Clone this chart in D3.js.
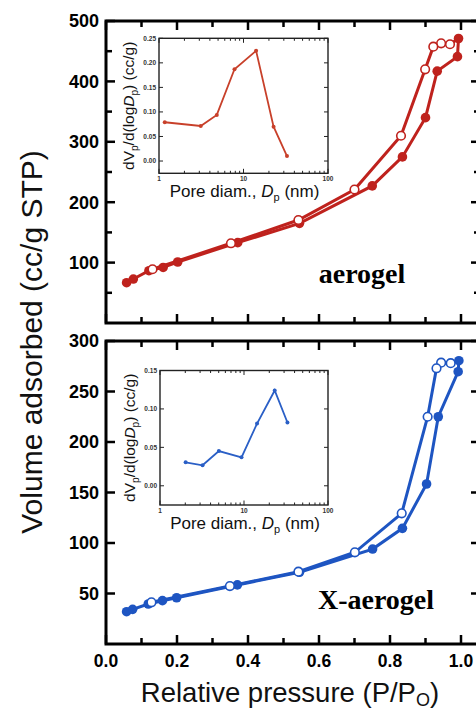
<!DOCTYPE html>
<html><head><meta charset="utf-8">
<script src="https://cdn.jsdelivr.net/npm/d3@7"></script>
<style>body{margin:0;background:#fff}svg{display:block}</style>
</head><body>
<svg id="c" width="476" height="709"></svg>
<script>
// ---- data ----
const aeroAdsP = [0.058,0.077,0.121,0.161,0.202,0.371,0.545,0.750,0.835,0.900,0.933,0.990,0.993];
const aeroAdsV = [66.7,72.8,86.6,92,101,133,165,227,275,340,417,441,471];
const aeroDesP = [0.969,0.944,0.922,0.899,0.831,0.700,0.542,0.352,0.131];
const aeroDesV = [461.5,463,457.5,420,310,221,170.5,132,89];

const xaeroAdsP = [0.058,0.075,0.119,0.159,0.199,0.370,0.545,0.751,0.835,0.903,0.936,0.992,0.994];
const xaeroAdsV = [32,34.3,39.6,42.9,45.8,58.5,71,94,114.5,158.4,225,269.6,280.5];
const xaeroDesP = [0.971,0.944,0.931,0.906,0.833,0.701,0.542,0.349,0.128];
const xaeroDesV = [278,278.5,273,225,129.4,90.8,71.6,57.4,41.3];

const aeroPoreD = [1.17,3.12,4.83,7.82,14.1,22.7,32.7];
const aeroPoreV = [0.079,0.0714,0.094,0.187,0.2245,0.070,0.0102];
const xaeroPoreD = [2.02,3.21,5.02,9.34,14.3,23.2,32.9];
const xaeroPoreV = [0.0306,0.0267,0.0452,0.037,0.081,0.124,0.0823];

const xTicksMajor = [0,0.2,0.4,0.6,0.8,1.0];
const xTicksMinor = [0.1,0.3,0.5,0.7,0.9];
const topYMajor = [100,200,300,400,500];
const topYMinor = [50,150,250,350,450];
const botYMajor = [50,100,150,200,250,300];
const insetTopYTicks = [0,0.05,0.10,0.15,0.20,0.25];
const insetBotYTicks = [0,0.05,0.10,0.15];
const insetXTicks = [1,10,100];

// ---- drawing ----
const svg = d3.select('#c');
const SANS = "'Liberation Sans', Arial, sans-serif";
const RED = '#bf221d', BLUE = '#1e55c2';
const L = 106, R = 480;
const x = d3.scaleLinear().domain([0,1]).range([L,461]);

function panel(top, bottom, yDomain, yMajor, yMinor, color, ads, des, label, inset){
  const y = d3.scaleLinear().domain(yDomain).range([bottom, top]);
  const g = svg.append('g');
  const tk = g.append('g').attr('stroke','#000').attr('stroke-width',2.5);
  xTicksMajor.concat(xTicksMinor).forEach(t=>{
    const len = xTicksMajor.includes(t) ? 9 : 6;
    tk.append('line').attr('x1',x(t)).attr('x2',x(t)).attr('y1',bottom).attr('y2',bottom-len);
    tk.append('line').attr('x1',x(t)).attr('x2',x(t)).attr('y1',top).attr('y2',top+len);
  });
  yMajor.concat(yMinor).forEach(t=>{
    const len = yMajor.includes(t) ? 9 : 6;
    tk.append('line').attr('x1',L).attr('x2',L+len).attr('y1',y(t)).attr('y2',y(t));
    tk.append('line').attr('x1',R).attr('x2',R-len).attr('y1',y(t)).attr('y2',y(t));
  });
  g.append('rect').attr('x',L).attr('y',top).attr('width',R-L).attr('height',bottom-top)
    .attr('fill','none').attr('stroke','#000').attr('stroke-width',3);
  g.selectAll('text.yl').data(yMajor).join('text').attr('class','yl')
    .attr('x',99).attr('y',d=>y(d)).attr('dy','0.36em').attr('text-anchor','end')
    .attr('font-family',SANS).attr('font-weight','bold').attr('font-size',18).text(d=>d);

  inset(g, color);

  const line = d3.line().x(d=>x(d[0])).y(d=>y(d[1]));
  const adsPts = ads[0].map((p,i)=>[p, ads[1][i]]);
  const desPts = des[0].map((p,i)=>[p, des[1][i]]);
  g.append('path').attr('d',line(adsPts)).attr('fill','none').attr('stroke',color).attr('stroke-width',3);
  g.append('path').attr('d',line([adsPts[adsPts.length-1]].concat(desPts))).attr('fill','none').attr('stroke',color).attr('stroke-width',3);
  g.selectAll('circle.a').data(adsPts).join('circle').attr('class','a')
    .attr('cx',d=>x(d[0])).attr('cy',d=>y(d[1])).attr('r',4.8).attr('fill',color);
  g.selectAll('circle.d').data(desPts).join('circle').attr('class','d')
    .attr('cx',d=>x(d[0])).attr('cy',d=>y(d[1])).attr('r',4.3).attr('fill','#fff')
    .attr('stroke',color).attr('stroke-width',1.6);

  g.append('text').attr('x',label.x).attr('y',label.y).attr('text-anchor','middle')
    .attr('font-family',"'Liberation Serif','Times New Roman',serif").attr('font-weight','bold')
    .attr('font-size',28).text(label.t);
  return y;
}

function makeInset(box, yDomain, yTicks, D, V, color){
  return function(g){
    const ix = d3.scaleLog().domain([1,100]).range([box.l, box.r]);
    const iy = d3.scaleLinear().domain(yDomain).range([box.b, box.t]);
    const ig = g.append('g');
    const tk = ig.append('g').attr('stroke','#222').attr('stroke-width',1);
    const minors = [];
    for (let dec of [1,10]) for (let k=2;k<=9;k++) minors.push(dec*k);
    minors.forEach(t=>{
      tk.append('line').attr('x1',ix(t)).attr('x2',ix(t)).attr('y1',box.b).attr('y2',box.b-2.5);
      tk.append('line').attr('x1',ix(t)).attr('x2',ix(t)).attr('y1',box.t).attr('y2',box.t+2.5);
    });
    insetXTicks.forEach(t=>{
      tk.append('line').attr('x1',ix(t)).attr('x2',ix(t)).attr('y1',box.b).attr('y2',box.b-4.5);
      tk.append('line').attr('x1',ix(t)).attr('x2',ix(t)).attr('y1',box.t).attr('y2',box.t+4.5);
    });
    yTicks.forEach(t=>{
      tk.append('line').attr('x1',box.l).attr('x2',box.l+4).attr('y1',iy(t)).attr('y2',iy(t));
      tk.append('line').attr('x1',box.r).attr('x2',box.r-4).attr('y1',iy(t)).attr('y2',iy(t));
    });
    ig.append('rect').attr('x',box.l).attr('y',box.t).attr('width',box.r-box.l).attr('height',box.b-box.t)
      .attr('fill','none').attr('stroke','#222').attr('stroke-width',1.4);
    ig.selectAll('text.iy').data(yTicks).join('text').attr('class','iy')
      .attr('x',box.l-3).attr('y',d=>iy(d)).attr('dy','0.35em').attr('text-anchor','end')
      .attr('font-family',SANS).attr('font-weight','bold').attr('font-size',6.5).attr('fill','#333')
      .text(d=>d3.format('.2f')(d));
    ig.selectAll('text.ix').data(insetXTicks).join('text').attr('class','ix')
      .attr('x',d=>ix(d)).attr('y',box.b+8).attr('text-anchor','middle')
      .attr('font-family',SANS).attr('font-weight','bold').attr('font-size',6.5).attr('fill','#333')
      .text(d=>d);
    const xt = ig.append('text').attr('x',(box.l+box.r)/2+1).attr('y',box.b+24).attr('text-anchor','middle')
      .attr('font-family',SANS).attr('font-size',17).attr('fill','#111');
    xt.append('tspan').text('Pore diam., ');
    xt.append('tspan').attr('font-style','italic').text('D');
    xt.append('tspan').attr('font-size',11).attr('dy',4).text('p');
    xt.append('tspan').attr('dy',-4).text(' (nm)');
    const yt = ig.append('text').attr('transform',`translate(${box.l-25},${(box.t+box.b)/2}) rotate(-90)`)
      .attr('text-anchor','middle').attr('font-family',SANS).attr('font-size',15.5).attr('fill','#111');
    yt.append('tspan').text('dV');
    yt.append('tspan').attr('font-size',10).attr('dy',4).text('p');
    yt.append('tspan').attr('dy',-4).text('/d(log');
    yt.append('tspan').attr('font-style','italic').text('D');
    yt.append('tspan').attr('font-size',10).attr('dy',4).text('p');
    yt.append('tspan').attr('dy',-4).text(') (cc/g)');
    const pts = D.map((d,i)=>[d,V[i]]);
    ig.append('path').attr('d',d3.line().x(d=>ix(d[0])).y(d=>iy(d[1]))(pts))
      .attr('fill','none').attr('stroke',color).attr('stroke-width',1.8);
    ig.selectAll('circle').data(pts).join('circle').attr('cx',d=>ix(d[0])).attr('cy',d=>iy(d[1]))
      .attr('r',2).attr('fill',color);
  };
}

panel(21, 323, [0,500], topYMajor, topYMinor, RED,
  [aeroAdsP, aeroAdsV], [aeroDesP, aeroDesV], {x:362, y:283, t:'aerogel'},
  makeInset({l:159, r:328, t:38.3, b:173.3}, [-0.025,0.25], insetTopYTicks, aeroPoreD, aeroPoreV, '#c8402a'));

panel(341, 644, [0,300], botYMajor, [], BLUE,
  [xaeroAdsP, xaeroAdsV], [xaeroDesP, xaeroDesV], {x:376, y:609, t:'X-aerogel'},
  makeInset({l:160, r:328, t:370.5, b:505}, [-0.025,0.15], insetBotYTicks, xaeroPoreD, xaeroPoreV, '#2a5fc6'));

svg.selectAll('text.xl').data(xTicksMajor).join('text').attr('class','xl')
  .attr('x',d=>x(d)).attr('y',667).attr('text-anchor','middle')
  .attr('font-family',SANS).attr('font-weight','bold').attr('font-size',17.5)
  .text(d=>d3.format('.1f')(d));

const xt = svg.append('text').attr('x',290).attr('y',702).attr('text-anchor','middle')
  .attr('font-family',SANS).attr('font-size',27.5).attr('fill','#111');
xt.append('tspan').text('Relative pressure (P/P');
xt.append('tspan').attr('font-size',18).attr('dy',4).text('O');
xt.append('tspan').attr('dy',-4).text(')');

svg.append('text').attr('transform','translate(42,342) rotate(-90)').attr('text-anchor','middle')
  .attr('font-family',SANS).attr('font-size',30).attr('fill','#111')
  .text('Volume adsorbed (cc/g STP)');
</script>
</body></html>
